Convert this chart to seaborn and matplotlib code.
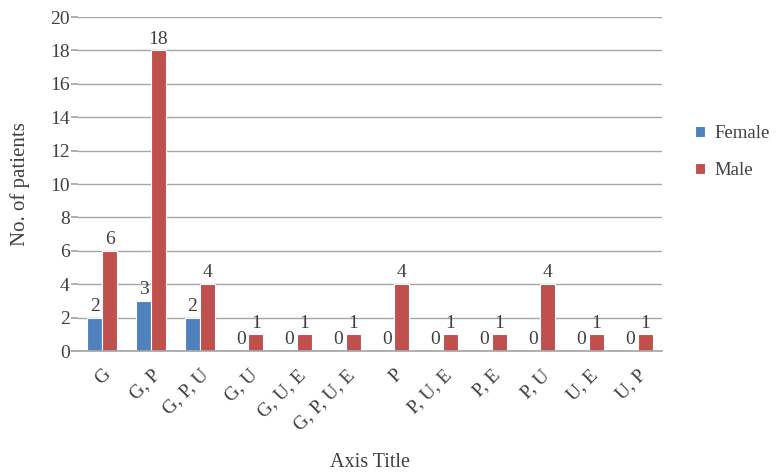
import matplotlib
matplotlib.use("Agg")
import matplotlib.pyplot as plt
import seaborn as sns
import pandas as pd

categories = ["G", "G, P", "G, P, U", "G, U", "G, U, E", "G, P, U, E",
              "P", "P, U, E", "P, E", "P, U", "U, E", "U, P"]
female = [2, 3, 2, 0, 0, 0, 0, 0, 0, 0, 0, 0]
male = [6, 18, 4, 1, 1, 1, 4, 1, 1, 4, 1, 1]
series = ["Female", "Male"]
colors = {"Female": "#4f81bd", "Male": "#c0504d"}

df = pd.DataFrame({
    "category": categories * 2,
    "sex": ["Female"] * len(categories) + ["Male"] * len(categories),
    "count": female + male,
})

sns.set_theme(style="white")
plt.rcParams["font.family"] = ["Liberation Serif", "DejaVu Serif"]
text_color = "#404040"
fs = 14

fig = plt.figure(figsize=(7.76, 4.75), dpi=100)
ax = fig.add_axes([0.1005, 0.261, 0.7525, 0.703])

sns.barplot(data=df, x="category", y="count", hue="sex", order=categories,
            hue_order=series, palette=colors, width=0.62, saturation=1,
            edgecolor="white", linewidth=0.8, ax=ax, legend=True)

ax.set_ylim(0, 20)
ax.set_yticks(range(0, 21, 2))
ax.set_xlim(-0.5, len(categories) - 0.5)
ax.grid(axis="y", color="#a6a6a6", linewidth=1.0)
ax.set_axisbelow(True)
for s in ["top", "right", "left"]:
    ax.spines[s].set_visible(False)
ax.spines["bottom"].set_color("#a6a6a6")

ax.tick_params(axis="y", length=5, color="#a6a6a6", labelsize=fs,
               labelcolor=text_color, pad=1, left=True)
ax.tick_params(axis="x", length=0, labelsize=fs, labelcolor=text_color, pad=11)
for lbl in ax.get_xticklabels():
    lbl.set_rotation(45)
    lbl.set_ha("right")
    lbl.set_va("top")
    lbl.set_rotation_mode("anchor")

ax.set_ylabel("No. of patients", fontsize=15, color=text_color, labelpad=14)
ax.set_xlabel("Axis Title", fontsize=14.5, color=text_color)
ax.xaxis.set_label_coords(0.5, -0.305)

for container in ax.containers:
    ax.bar_label(container, fmt="%d", padding=2, fontsize=fs, color=text_color)

handles, labels = ax.get_legend_handles_labels()
ax.legend(handles, labels, loc="center left", bbox_to_anchor=(1.056, 0.596),
          frameon=False, fontsize=13.5, handlelength=0.55, handleheight=0.55,
          handletextpad=0.5, labelspacing=1.05, borderpad=0, borderaxespad=0,
          labelcolor=text_color)

fig.savefig("out.png", dpi=100)
